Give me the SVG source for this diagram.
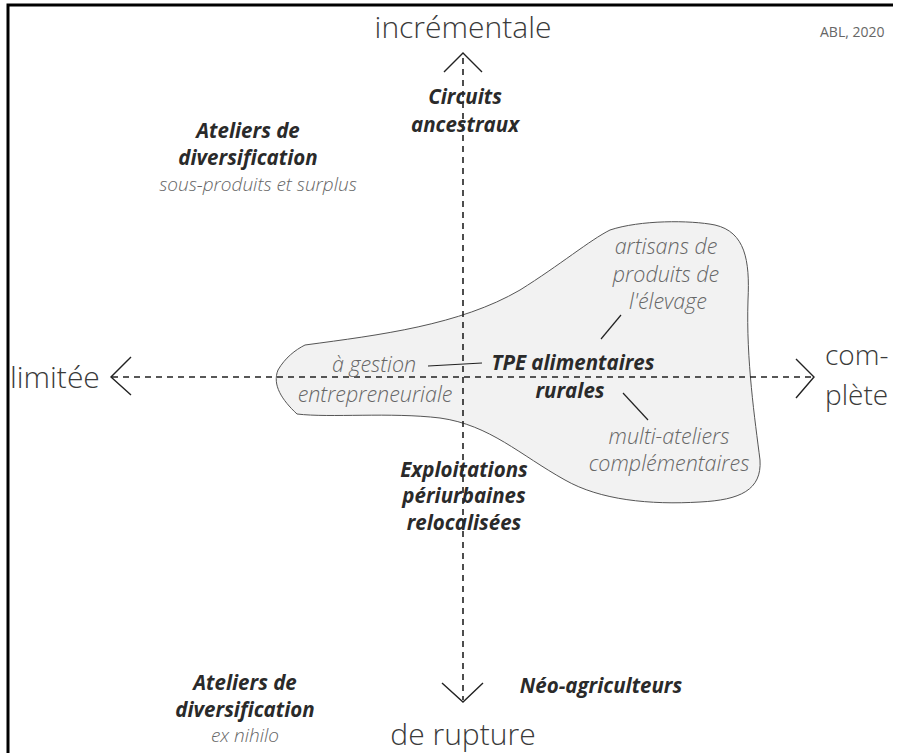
<svg xmlns="http://www.w3.org/2000/svg" width="897" height="753" viewBox="0 0 897 753">
<defs>
<style>
.axis{font-family:"Open Sans","Noto Sans",sans-serif;font-weight:300;font-size:30px;fill:#3a3a3a}
.axis2{font-family:"Open Sans","Noto Sans",sans-serif;font-weight:300;font-size:28px;fill:#3a3a3a}
.bold{font-family:"Open Sans","Noto Sans",sans-serif;font-weight:700;font-style:italic;font-size:20.5px;fill:#2a2a2a;text-anchor:middle}
.sub{font-family:"Open Sans","Noto Sans",sans-serif;font-weight:300;font-style:italic;font-size:19px;fill:#666;text-anchor:middle}
.sub2{font-family:"Open Sans","Noto Sans",sans-serif;font-weight:300;font-style:italic;font-size:21.5px;fill:#666;text-anchor:middle}
.dash{stroke:#222;stroke-width:1.6;stroke-dasharray:6 5;fill:none}
.head{stroke:#222;stroke-width:1.4;fill:none}
.lead{stroke:#222;stroke-width:1.2;fill:none}
</style>
</defs>
<rect width="897" height="753" fill="#fff"/>
<path d="M8,753 V5 H893" fill="none" stroke="#000" stroke-width="3"/>
<text x="820" y="37" style="font-family:'Open Sans',sans-serif;font-weight:400;font-size:14px;fill:#666">ABL, 2020</text>

<g id="blob">
<path d="M305,345 C380,335 460,325 520,290 C560,265 590,240 610,230 C640,220 690,220 715,225 C745,232 750,260 748,300 C746,360 755,420 760,460 C762,490 740,500 700,502 C650,505 600,500 565,480 C520,455 490,425 440,418 C390,412 330,418 297,414 C282,400 272,385 278,370 C285,358 295,350 305,345 Z" fill="#f2f2f2" stroke="#555" stroke-width="1"/>
</g>

<g id="connectors">
<line class="dash" x1="463" y1="58" x2="463" y2="700"/>
<line class="dash" x1="112" y1="377" x2="812" y2="377"/>
<polyline class="head" points="444,72 463,53 482,72"/>
<polyline class="head" points="442,683 463,702 483,683"/>
<polyline class="head" points="131,357 111,377 131,395"/>
<polyline class="head" points="796,359 814,377 796,398"/>
<line class="lead" x1="601" y1="339" x2="621" y2="315"/>
<line class="lead" x1="428" y1="366" x2="482" y2="363"/>
<line class="lead" x1="623" y1="393" x2="648" y2="420"/>
</g>

<g id="axis-top"><text class="axis" x="463" y="38" text-anchor="middle">incrémentale</text></g>
<g id="axis-bottom"><text class="axis" x="463" y="745" text-anchor="middle">de rupture</text></g>
<g id="axis-left"><text class="axis" x="10" y="388">limitée</text></g>
<g id="axis-right"><text class="axis2" x="825" y="365">com-</text><text class="axis2" x="825" y="405">plète</text></g>

<g id="circuits"><text class="bold" x="465" y="104">Circuits</text><text class="bold" x="465" y="132">ancestraux</text></g>
<g id="ateliers-haut"><text class="bold" x="248" y="138">Ateliers de</text><text class="bold" x="248" y="165">diversification</text><text class="sub" x="258" y="191">sous-produits et surplus</text></g>
<g id="artisans"><text class="sub2" x="666" y="254">artisans de</text><text class="sub2" x="666" y="282">produits de</text><text class="sub2" x="668" y="309">l'élevage</text></g>
<g id="gestion"><text class="sub2" x="374" y="372">à gestion</text><text class="sub2" x="375" y="402">entrepreneuriale</text></g>
<g id="tpe"><text class="bold" x="573" y="370">TPE alimentaires</text><text class="bold" x="570" y="398">rurales</text></g>
<g id="multi"><text class="sub2" x="669" y="444">multi-ateliers</text><text class="sub2" x="669" y="471">complémentaires</text></g>
<g id="exploitations"><text class="bold" x="464" y="477">Exploitations</text><text class="bold" x="464" y="503">périurbaines</text><text class="bold" x="464" y="530">relocalisées</text></g>
<g id="ateliers-bas"><text class="bold" x="245" y="690">Ateliers de</text><text class="bold" x="245" y="717">diversification</text><text class="sub" x="245" y="742">ex nihilo</text></g>
<g id="neo"><text class="bold" x="601" y="693">Néo-agriculteurs</text></g>
</svg>
